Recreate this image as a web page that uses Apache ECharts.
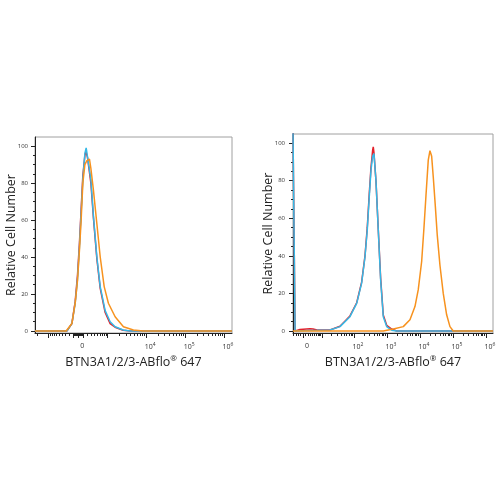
<!DOCTYPE html>
<html>
<head>
<meta charset="utf-8">
<script src="https://cdn.jsdelivr.net/npm/echarts@6/dist/echarts.min.js"></script>
<style>
  html, body { margin: 0; padding: 0; background: #fff; }
  #chart { width: 500px; height: 500px; }
</style>
</head>
<body>
<div id="chart"></div>
<script>
// Biexponential-ish display: asinh(value / cofactor)
const leftCofactor = 361;
const rightCofactor = 5.7;
const leftRange = [-2300, 1600000];
const rightRange = [-4.3, 1640000];
const yRange = [-1.1, 104.9];

const yTickValues = [0, 20, 40, 60, 80, 100];
const yMinorValues = [5, 10, 15, 25, 30, 35, 45, 50, 55, 65, 70, 75, 85, 90, 95];

const leftLabelValues = [0, 1e4, 1e5, 1e6];
const leftLabelTexts = ["0", "10|4", "10|5", "10|6"];
const rightLabelValues = [0, 1e2, 1e3, 1e4, 1e5, 1e6];
const rightLabelTexts = ["0", "10|2", "10|3", "10|4", "10|5", "10|6"];
const leftMajorTicks = [-1000, -100, 0, 100, 1000, 1e4, 1e5, 1e6];
const rightMajorTicks = [0, 10, 100, 1000, 1e4, 1e5, 1e6];

// [intensity, relative count]
const leftRed = [[-2300, 0], [-259, 0], [-137, 4], [-64, 16], [-15, 30], [28, 48], [64, 66], [101, 84], [147, 95], [170, 97], [208, 94], [297, 80], [372, 61], [485, 39], [615, 23], [853, 10], [1166, 4], [1582, 2], [2559, 0.4], [3880, 0], [1600000, 0]];
const leftBlue = [[-2300, 0], [-259, 0], [-137, 4], [-64, 15], [-15, 28], [28, 46], [64, 64], [101, 82], [147, 96], [177, 99], [208, 98], [297, 82], [372, 62], [485, 40], [615, 24], [853, 11], [1166, 5], [1582, 2.3], [2559, 0.5], [3880, 0], [1600000, 0]];
const leftOrange = [[-2300, 0], [-278, 0], [-137, 4], [-64, 15], [-15, 27], [28, 44], [64, 60], [101, 80], [147, 90], [190, 92], [226, 91], [259, 93], [297, 88], [372, 76], [485, 58], [615, 40], [801, 24], [1047, 15], [1582, 7.7], [2606, 2.3], [4715, 0.5], [8375, 0], [1600000, 0]];

const rightRed = [[-4.3, 106], [-3.3, 0], [-1.2, 0.8], [2.9, 1.2], [4.3, 1], [6.5, 0.5], [18.3, 0.5], [37.5, 2.5], [75.6, 8], [121, 15], [171, 26], [216, 40], [253, 55], [291, 73], [328, 87], [369, 96.3], [385, 98], [404, 95], [465, 80], [546, 54], [645, 28], [774, 8.5], [981, 3], [1390, 1], [1971, 0], [1640000, 0]];
const rightBlue = [[-4.3, 106], [-3.3, 0], [6.5, 0.3], [18.3, 0.5], [37.5, 2.3], [75.6, 7.6], [121, 14.7], [171, 25.5], [216, 39.5], [253, 53.7], [291, 71.4], [328, 85.6], [369, 93], [404, 94.5], [465, 80], [546, 53.7], [645, 27], [774, 7.6], [981, 2.3], [1390, 0.4], [1971, 0], [1640000, 0]];
const rightOrange = [[-4.3, 0], [774, 0], [1555, 1], [3125, 2.3], [4985, 6], [7065, 13], [8898, 22], [11277, 37], [13248, 55], [15231, 72], [17886, 91], [20129, 96], [22670, 93], [25357, 82], [29134, 67], [33508, 51], [40431, 35], [50925, 20], [64564, 8.6], [81272, 2.3], [102292, 0], [1640000, 0]];

const colors = { red: "#e3202a", blue: "#35b8e6", orange: "#f7921e" };
const fontFamily = "'Open Sans', 'Noto Sans', sans-serif";

function toDisplay(value, cofactor) {
  return Math.asinh(value / cofactor);
}

function minorTicks(range, majors) {
  const ticks = [];
  for (let exp = 0; exp <= 6; exp++) {
    for (let k = 1; k <= 9; k++) {
      const v = k * Math.pow(10, exp);
      for (const s of [v, -v]) {
        if (s > range[0] && s < range[1] && !majors.includes(s)) ticks.push(s);
      }
    }
  }
  return ticks;
}

function labelFormatter(values, texts, cofactor) {
  const shown = values.map((v) => toDisplay(v, cofactor));
  return (value) => {
    let best = 0;
    shown.forEach((s, i) => {
      if (Math.abs(s - value) < Math.abs(shown[best] - value)) best = i;
    });
    const parts = texts[best].split("|");
    return parts.length > 1 ? `{b|${parts[0]}}{s|${parts[1]}}` : `{b|${parts[0]}}`;
  };
}

function xAxes(gridIndex, range, cofactor, labelValues, labelTexts, majors) {
  const min = toDisplay(range[0], cofactor);
  const max = toDisplay(range[1], cofactor);
  return [
    {
      gridIndex,
      type: "value",
      position: "bottom",
      min,
      max,
      axisLine: { show: true, onZero: false, lineStyle: { color: "#222", width: 1 } },
      axisTick: { customValues: majors.map((v) => toDisplay(v, cofactor)), length: 5, lineStyle: { color: "#222" } },
      axisLabel: {
        customValues: labelValues.map((v) => toDisplay(v, cofactor)),
        formatter: labelFormatter(labelValues, labelTexts, cofactor),
        margin: 9,
        padding: [0, 0, 0, 8],
        color: "#333",
        fontFamily,
        rich: {
          b: { fontSize: 7, color: "#333", fontFamily },
          s: { fontSize: 5, color: "#333", fontFamily, verticalAlign: "bottom", padding: [0, 0, 5, 0] }
        }
      },
      splitLine: { show: false },
      name: "BTN3A1/2/3-ABflo{r|®} 647",
      nameLocation: "middle",
      nameGap: 22,
      nameMoveOverlap: false,
      nameTextStyle: {
        fontSize: 12.5,
        color: "#222",
        fontFamily,
        rich: { r: { fontSize: 8, color: "#222", fontFamily, verticalAlign: "bottom", padding: [0, 0, 6, 0] } }
      }
    },
    {
      gridIndex,
      type: "value",
      position: "bottom",
      min,
      max,
      axisLine: { show: false, onZero: false },
      axisTick: { customValues: minorTicks(range, majors).map((v) => toDisplay(v, cofactor)), length: 3, lineStyle: { color: "#222" } },
      axisLabel: { show: false },
      splitLine: { show: false }
    }
  ];
}

function yAxes(gridIndex, labelMargin, nameGap) {
  return [
    {
      gridIndex,
      type: "value",
      position: "left",
      min: yRange[0],
      max: yRange[1],
      axisLine: { show: true, onZero: false, lineStyle: { color: "#222", width: 1 } },
      axisTick: { customValues: yTickValues, length: 4, lineStyle: { color: "#222" } },
      axisLabel: { customValues: yTickValues, fontSize: 6, color: "#333", margin: labelMargin, fontFamily },
      splitLine: { show: false },
      name: "Relative Cell Number",
      nameLocation: "middle",
      nameGap,
      nameMoveOverlap: false,
      nameTextStyle: { fontSize: 12.5, color: "#222", fontFamily }
    },
    {
      gridIndex,
      type: "value",
      position: "left",
      min: yRange[0],
      max: yRange[1],
      axisLine: { show: false, onZero: false },
      axisTick: { customValues: yMinorValues, length: 2, lineStyle: { color: "#222" } },
      axisLabel: { show: false },
      splitLine: { show: false }
    }
  ];
}

function lineSeries(data, cofactor, color, axisIndex) {
  return {
    type: "line",
    xAxisIndex: axisIndex,
    yAxisIndex: axisIndex,
    data: data.map(([x, y]) => [toDisplay(x, cofactor), y]),
    showSymbol: false,
    symbol: "none",
    clip: true,
    lineStyle: { color, width: 1.5 },
    z: 3
  };
}

const chart = echarts.init(document.getElementById("chart"), null, { renderer: "canvas" });
chart.setOption({
  animation: false,
  backgroundColor: "#fff",
  grid: [
    { left: 35, top: 137, width: 197, height: 196, show: true, borderColor: "#a0a0a0", borderWidth: 1, backgroundColor: "transparent", outerBoundsMode: "none" },
    { left: 293, top: 134, width: 200, height: 199, show: true, borderColor: "#a0a0a0", borderWidth: 1, backgroundColor: "transparent", outerBoundsMode: "none" }
  ],
  xAxis: [
    ...xAxes(0, leftRange, leftCofactor, leftLabelValues, leftLabelTexts, leftMajorTicks),
    ...xAxes(1, rightRange, rightCofactor, rightLabelValues, rightLabelTexts, rightMajorTicks)
  ],
  yAxis: [...yAxes(0, 7, 17), ...yAxes(1, 8, 18)],
  series: [
    lineSeries(leftRed, leftCofactor, colors.red, 0),
    lineSeries(leftBlue, leftCofactor, colors.blue, 0),
    lineSeries(leftOrange, leftCofactor, colors.orange, 0),
    lineSeries(rightRed, rightCofactor, colors.red, 2),
    lineSeries(rightBlue, rightCofactor, colors.blue, 2),
    lineSeries(rightOrange, rightCofactor, colors.orange, 2)
  ]
});
</script>
</body>
</html>
